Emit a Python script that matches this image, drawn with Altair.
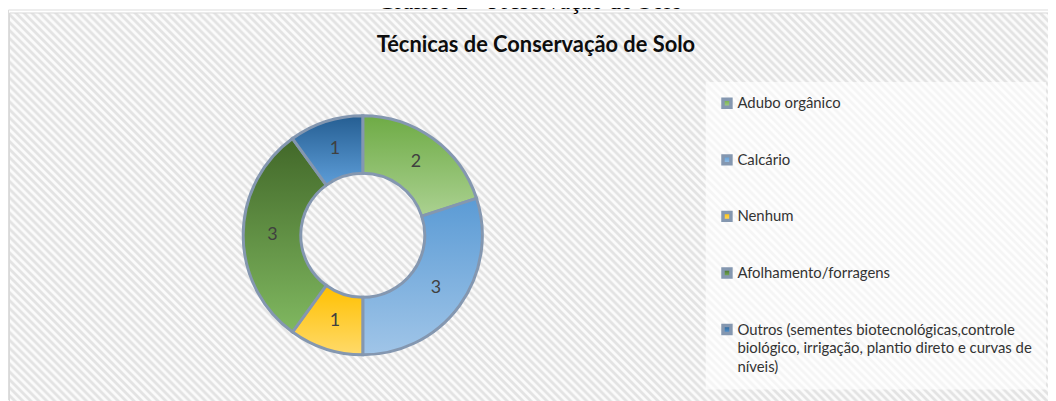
import json
import math
import altair as alt
import pandas as pd

# ---------------- data ----------------
caption = "Gráfico 2 - Preservação do Solo"
chart_title = "Técnicas de Conservação de Solo"
categories = [
    "Adubo orgânico",
    "Calcário",
    "Nenhum",
    "Afolhamento/forragens",
    "Outros (sementes biotecnológicas,controle biológico, irrigação, plantio direto e curvas de níveis)",
]
values = [2, 3, 1, 3, 1]
outros_lines = [
    "Outros (sementes biotecnológicas,controle",
    "biológico, irrigação, plantio direto e curvas de",
    "níveis)",
]
top_colors = ["#6EAB45", "#5B9BD5", "#FFC000", "#426829", "#255E92"]
bottom_colors = ["#ABD191", "#A0C5E8", "#FFDA6A", "#80B860", "#5D9DD8"]

df = pd.DataFrame({"cat": categories, "value": values, "idx": list(range(len(values)))})

# ---------------- styles ----------------
def vgrad(c0, c1):
    return {"expr": "{gradient:'linear',x1:0,y1:0,x2:0,y2:1,stops:[{offset:0,color:'%s'},{offset:1,color:'%s'}]}" % (c0, c1)}

grad_range = [vgrad(a, b) for a, b in zip(top_colors, bottom_colors)]

# hatched background (45 degree downward diagonal stripes) as a many-stop gradient
W_r, H_r = 1058.5, 396.5
r = H_r / W_r
k = (1 + r) / (1 + r * r)
total = W_r + H_r
P = 8.0
LIGHT, DARK = "#FBFBFB", "#E3E3E3"
stops = []
n = int(math.ceil(total / P)) + 1
for i in range(n):
    base = i * P
    for off, col in ((0, LIGHT), (2, DARK), (4, DARK), (6, LIGHT)):
        o = (base + off) / total
        if o <= 1:
            stops.append({"offset": round(o, 6), "color": col})
hatch = alt.Gradient(gradient="linear", x1=0, y1=1, x2=k, y2=1 - k * r, stops=stops)

CX, CY = 357.5, 227.5

def with_angles(ch):
    return ch.transform_window(
        end="sum(value)", sort=[alt.SortField("idx")], frame=[None, 0]
    ).transform_calculate(
        start="datum.end - datum.value", mid="datum.end - datum.value / 2"
    )

theta_scale = alt.Scale(domain=[0, sum(values)], range=[0, 2 * math.pi])

label_expr = "datum.label === %s ? %s : datum.label" % (
    json.dumps(categories[4], ensure_ascii=False),
    json.dumps(outros_lines, ensure_ascii=False),
)

bg = alt.Chart(pd.DataFrame({"k": [0]})).mark_rect(
    fill=hatch, stroke="#D9D9D9", strokeWidth=1
).encode(
    x=alt.value(1.5), x2=alt.value(1.5 + W_r), y=alt.value(3.5), y2=alt.value(3.5 + H_r)
)

arcs = with_angles(alt.Chart(df)).mark_arc(
    outerRadius=120.5, innerRadius=62.5, stroke="#8497B0", strokeWidth=3
).encode(
    theta=alt.Theta("start:Q", scale=theta_scale),
    theta2="end:Q",
    x=alt.value(CX),
    y=alt.value(CY),
    color=alt.Color(
        "cat:N",
        sort=categories,
        scale=alt.Scale(domain=categories, range=grad_range),
        legend=alt.Legend(
            title=None,
            orient="none",
            legendX=703,
            legendY=73,
            padding=14,
            fillColor="rgba(255,255,255,0.65)",
            symbolType="square",
            symbolSize=64,
            symbolStrokeColor="#8497B0",
            symbolStrokeWidth=3.5,
            labelFont="Lato",
            labelFontSize=15,
            labelColor="#333333",
            labelOffset=3,
            rowPadding=34,
            labelLimit=400,
            labelExpr=label_expr,
        ),
    ),
)

nums = with_angles(alt.Chart(df)).mark_text(
    radius=91, font="Lato", fontSize=18, color="#404040", align="center", baseline="middle"
).encode(
    theta=alt.Theta("mid:Q", scale=theta_scale),
    text="value:Q",
    x=alt.value(CX),
    y=alt.value(CY),
)

cap = alt.Chart(pd.DataFrame({"t": [caption]})).mark_text(
    font="Liberation Serif", fontSize=24, color="#000000", align="center", baseline="alphabetic"
).encode(text="t:N", x=alt.value(526), y=alt.value(-0.7))

ttl = alt.Chart(pd.DataFrame({"t": [chart_title]})).mark_text(
    font="Lato", fontSize=22, fontWeight="bold", color="#0D0D0D", align="center", baseline="alphabetic"
).encode(text="t:N", x=alt.value(532), y=alt.value(42.5))

chart = alt.layer(bg, arcs, nums, cap, ttl).properties(
    width=1048,
    height=393,
    padding=0,
    autosize=alt.AutoSizeParams(type="none"),
    background="white",
).configure_view(stroke=None).configure(style={"guide-label": {"lineHeight": 19}})

chart.save("out.html", embed_options={"renderer": "svg", "actions": False})
